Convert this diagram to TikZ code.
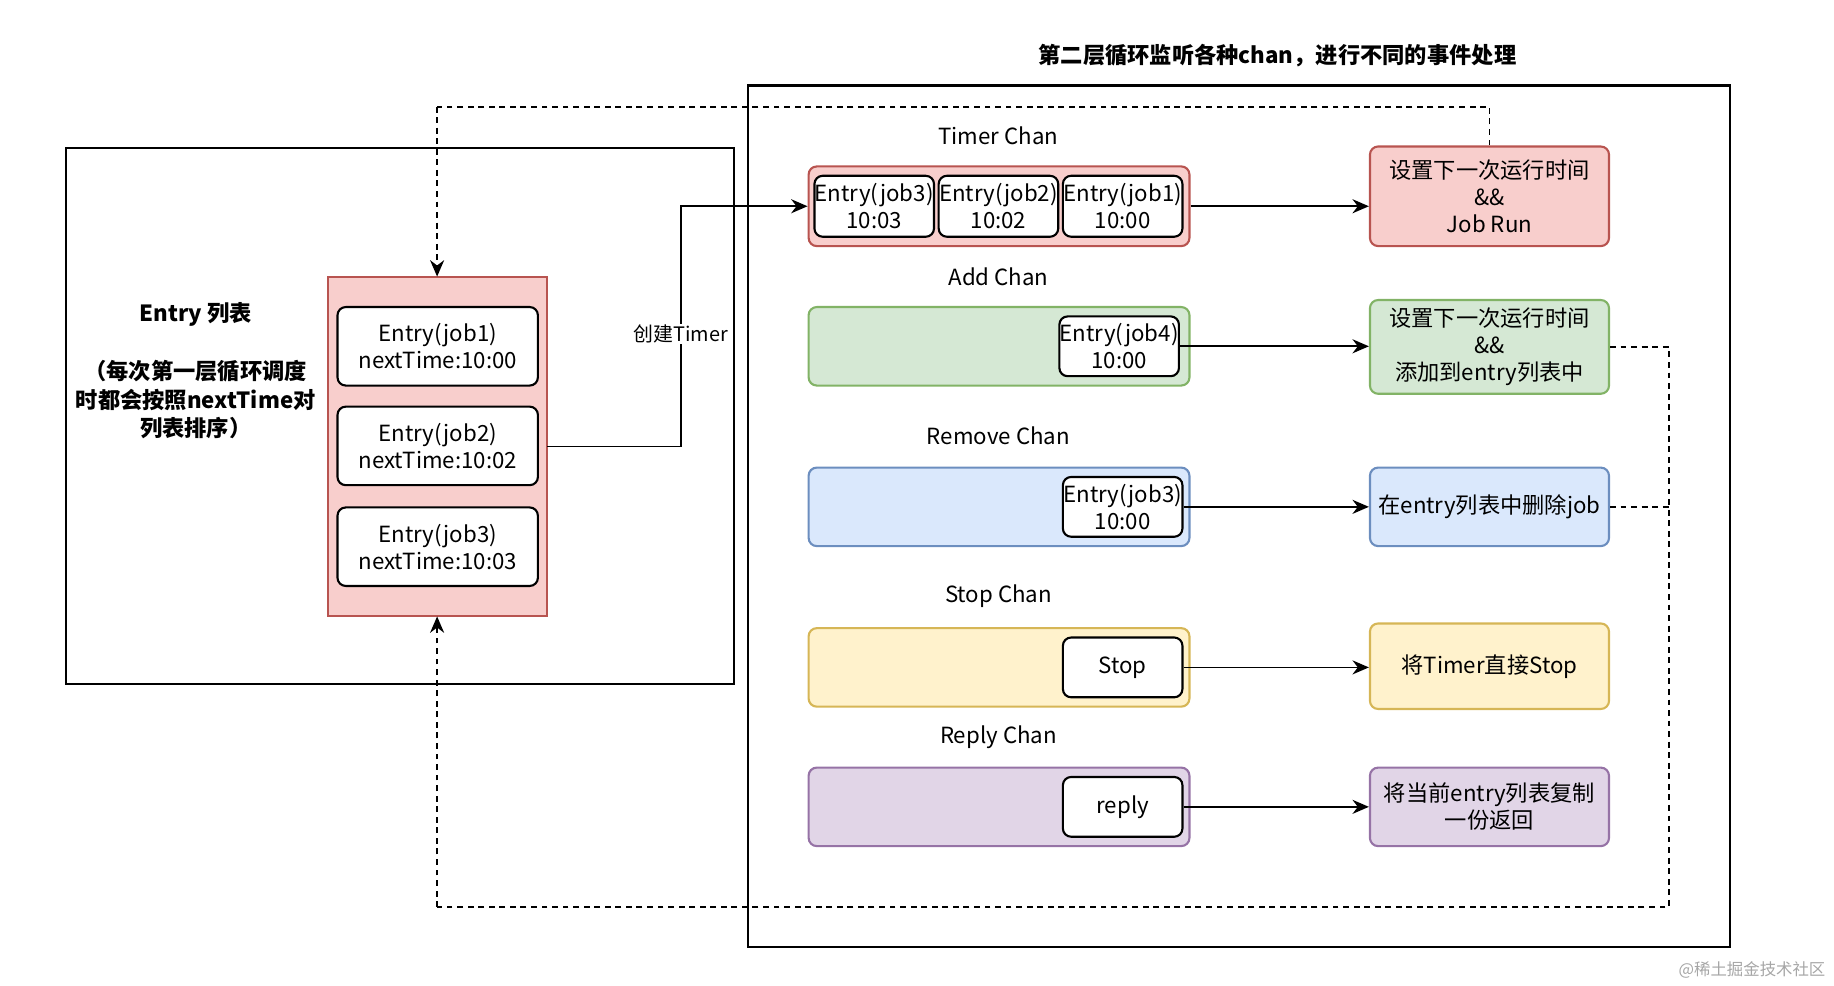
\documentclass[tikz,border=0pt]{standalone}
\usepackage{fontspec}
\setmainfont{Noto Sans CJK SC}
\usetikzlibrary{arrows.meta}
\definecolor{rf}{HTML}{F8CECC}\definecolor{rd}{HTML}{B85450}
\definecolor{gf}{HTML}{D5E8D4}\definecolor{gd}{HTML}{82B366}
\definecolor{bf}{HTML}{DAE8FC}\definecolor{bd}{HTML}{6C8EBF}
\definecolor{yf}{HTML}{FFF2CC}\definecolor{yd}{HTML}{D6B656}
\definecolor{pf}{HTML}{E1D5E7}\definecolor{pd}{HTML}{9673A6}
\begin{document}
\begin{tikzpicture}[x=1pt,y=-1pt,
  every node/.style={font=\fontsize{19}{23}\selectfont, align=center, inner sep=0pt},
  box/.style={draw, line width=1.8pt},
  chan/.style={draw, rounded corners=7pt, line width=1.8pt},
  inner/.style={draw, fill=white, rounded corners=7pt, line width=1.8pt},
  arr/.style={-{Stealth[length=14pt,width=12pt]}, line width=1.5pt},
  dsh/.style={dashed, dash pattern=on 5pt off 4pt, line width=1.5pt}]
\useasboundingbox (0,0) rectangle (1565,841);
\node[font=\fontsize{19}{23}\selectfont\bfseries] (title) at (1090,47) {第二层循环监听各种chan，进行不同的事件处理};
\draw[box] (638,73) rectangle (1476,808);
\draw[box] (56,126) rectangle (626,584);
\node[font=\fontsize{19}{23}\selectfont\bfseries] (lt1) at (167,268) {Entry 列表};
\node[font=\fontsize{19}{24}\selectfont\bfseries] (lt2) at (167,341) {（每次第一层循环调度\\时都会按照nextTime对\\列表排序）};
\draw[box, fill=rf, draw=rd] (280,236) rectangle (467,526);
\node[inner, minimum width=171pt, minimum height=67pt] (e1) at (373.5,295.5) {Entry(job1)\\nextTime:10:00};
\node[inner, minimum width=171pt, minimum height=67pt] (e2) at (373.5,380.5) {Entry(job2)\\nextTime:10:02};
\node[inner, minimum width=171pt, minimum height=67pt] (e3) at (373.5,466.5) {Entry(job3)\\nextTime:10:03};
\coordinate (colR) at (467,381);
\coordinate (colT) at (373,236);
\coordinate (colB) at (373,526);
\node (l1) at (852,116) {Timer Chan};
\node (l2) at (852,236) {Add Chan};
\node (l3) at (852,372) {Remove Chan};
\node (l4) at (852,509) {Stop Chan};
\node (l5) at (852,629) {Reply Chan};
\node[chan, fill=rf, draw=rd, minimum width=325pt, minimum height=68pt] (c1) at (852.5,176) {};
\node[chan, fill=gf, draw=gd, minimum width=325pt, minimum height=67pt] (c2) at (852.5,295.5) {};
\node[chan, fill=bf, draw=bd, minimum width=325pt, minimum height=67pt] (c3) at (852.5,432.5) {};
\node[chan, fill=yf, draw=yd, minimum width=325pt, minimum height=67pt] (c4) at (852.5,569.5) {};
\node[chan, fill=pf, draw=pd, minimum width=325pt, minimum height=67pt] (c5) at (852.5,688.5) {};
\node[inner, minimum width=102pt, minimum height=52pt] (t3) at (746,176) {Entry(job3)\\10:03};
\node[inner, minimum width=102pt, minimum height=52pt] (t2) at (852,176) {Entry(job2)\\10:02};
\node[inner, minimum width=102pt, minimum height=52pt] (t1) at (958,176) {Entry(job1)\\10:00};
\node[inner, minimum width=102pt, minimum height=51pt] (a4) at (955,295.5) {Entry(job4)\\10:00};
\node[inner, minimum width=102pt, minimum height=51pt] (r3) at (958,432.5) {Entry(job3)\\10:00};
\node[inner, minimum width=102pt, minimum height=51pt] (st) at (958,569.5) {Stop};
\node[inner, minimum width=102pt, minimum height=51pt] (rp) at (958,688.5) {reply};
\node[chan, fill=rf, draw=rd, minimum width=204pt, minimum height=85pt] (h1) at (1271,167.5) {设置下一次运行时间\\\&\&\\Job Run};
\node[chan, fill=gf, draw=gd, minimum width=204pt, minimum height=80pt] (h2) at (1271,296) {设置下一次运行时间\\\&\&\\添加到entry列表中};
\node[chan, fill=bf, draw=bd, minimum width=204pt, minimum height=67pt] (h3) at (1271,432.5) {在entry列表中删除job};
\node[chan, fill=yf, draw=yd, minimum width=204pt, minimum height=73pt] (h4) at (1271,568.5) {将Timer直接Stop};
\node[chan, fill=pf, draw=pd, minimum width=204pt, minimum height=67pt] (h5) at (1271,688.5) {将当前entry列表复制\\一份返回};
\draw[arr] (c1.east) -- (h1.west |- c1.east);
\draw[arr] (a4.east) -- (h2.west |- a4.east);
\draw[arr] (r3.east) -- (h3.west);
\draw[arr] (st.east) -- (h4.west |- st.east);
\draw[arr] (rp.east) -- (h5.west);
\coordinate (k1) at (581,381);
\coordinate (k2) at (581,176);
\draw[arr] (colR) -- (k1) -- (k2) -- (c1.west);
\node[fill=white, inner sep=1pt, font=\fontsize{17}{20}\selectfont] (ct) at (581,285) {创建Timer};
\coordinate (d1) at (1271,91);
\coordinate (d2) at (373,91);
\draw[dsh] (h1.north) -- (d1) -- (d2);
\draw[dsh, arr] (d2) -- (colT);
\coordinate (d3) at (1424,296);
\coordinate (d4) at (1424,774);
\coordinate (d5) at (373,774);
\draw[dsh] (h2.east) -- (d3) -- (d4) -- (d5);
\draw[dsh, arr] (d5) -- (colB);
\coordinate (d6) at (1424,432.5);
\draw[dsh] (h3.east) -- (d6);
\node[text=gray!70, font=\fontsize{14}{16}\selectfont] (wm) at (1495,828) {@稀土掘金技术社区};
\end{tikzpicture}
\end{document}
